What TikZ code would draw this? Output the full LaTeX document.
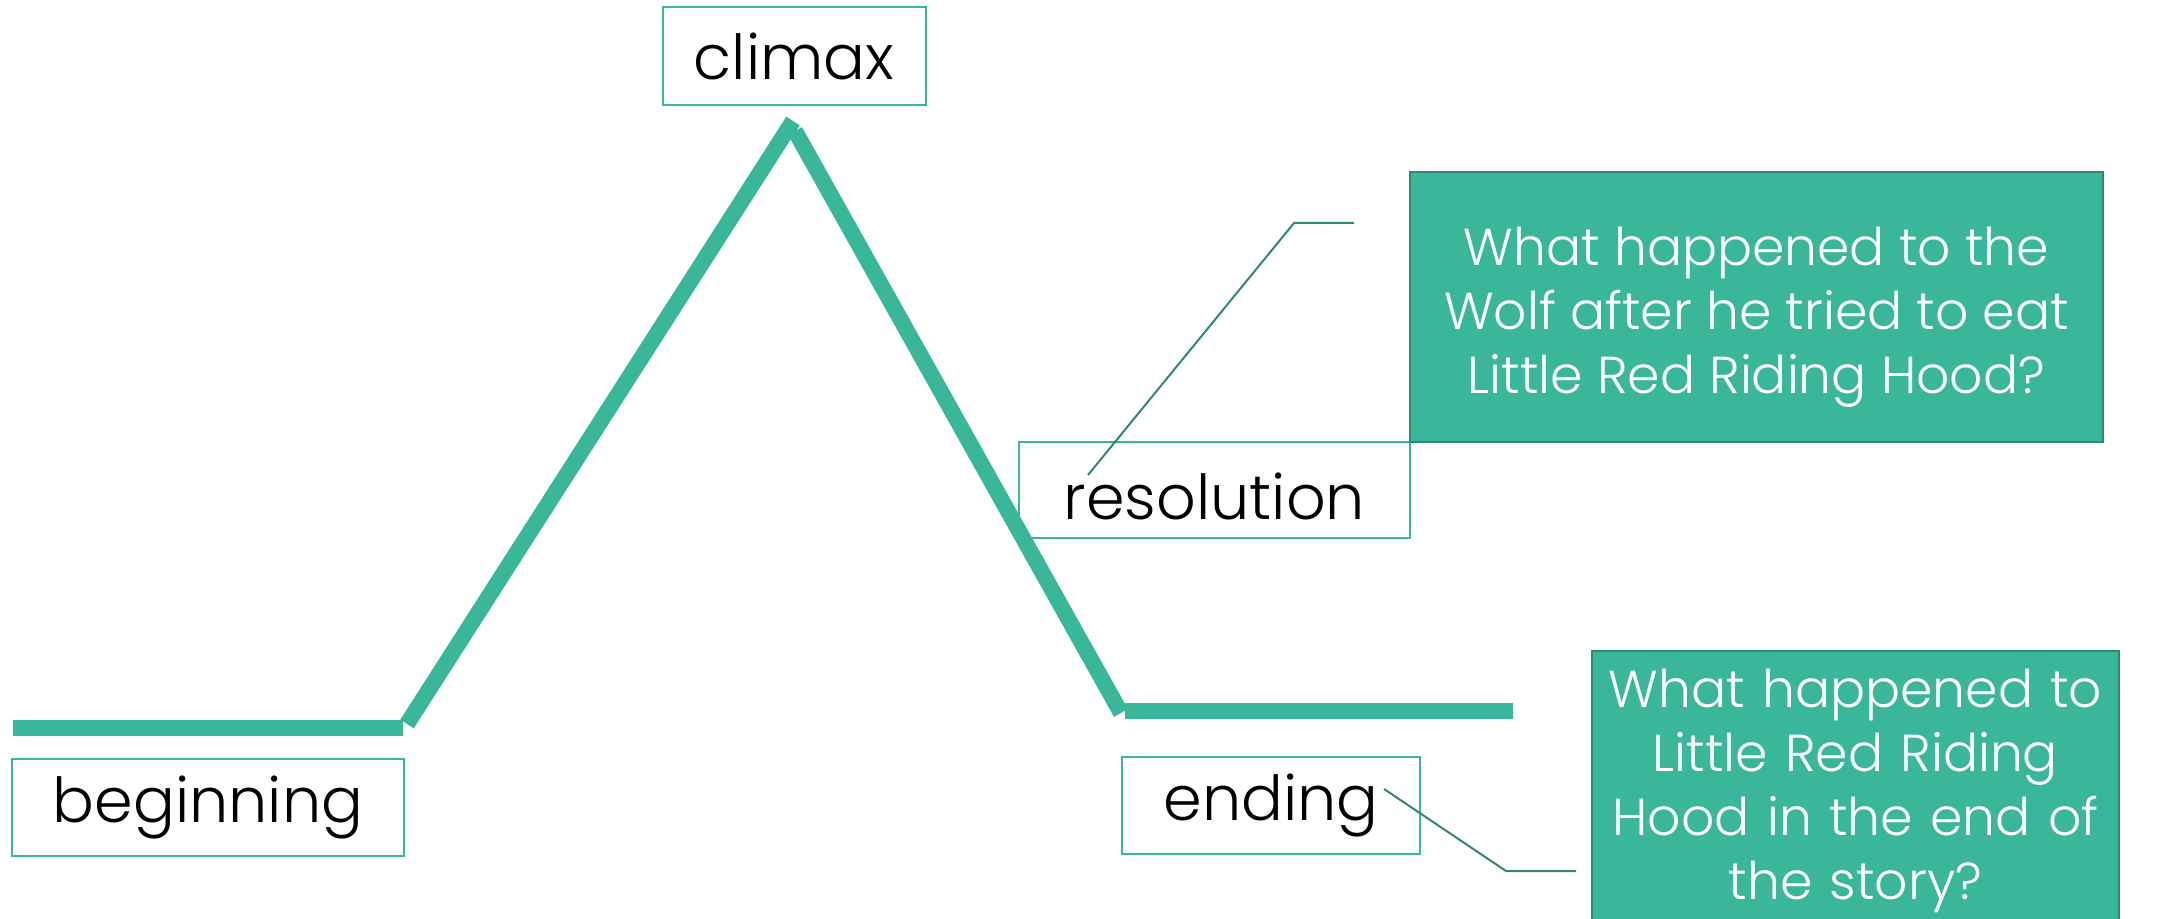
\documentclass[tikz,border=0pt]{standalone}
\usepackage{fontspec}
\setmainfont{Poppins Light}[BoldFont=Poppins]
\definecolor{plotgreen}{HTML}{3AB79A}
\definecolor{darkgreen}{HTML}{2E8872}
\begin{document}
\begin{tikzpicture}[x=0.5pt,y=-0.5pt,
  labelbox/.style={draw=plotgreen,line width=1pt,inner sep=0pt,font=\fontsize{31}{37}\selectfont,text=black},
  qbox/.style={draw=darkgreen,fill=plotgreen,line width=1pt,inner sep=0pt,text=white,align=center,font=\fontsize{26}{32}\selectfont},
  plotline/.style={draw=plotgreen,line width=8pt,line cap=butt},
  leader/.style={draw=darkgreen,line width=1pt}]
\useasboundingbox (0,0) rectangle (2159,919);
% plot line
\coordinate (b0) at (13,728);
\coordinate (b1) at (403,728);
\coordinate (r0) at (407,724);
\coordinate (r1) at (793,121);
\coordinate (f0) at (795,131);
\coordinate (f1) at (1121,713);
\coordinate (e0) at (1125,711);
\coordinate (e1) at (1513,711);
\draw[plotline] (b0) -- (b1);
\draw[plotline] (r0) -- (r1);
\draw[plotline] (f0) -- (f1);
\draw[plotline] (e0) -- (e1);
% labels
\node[labelbox,minimum width=196pt,minimum height=48.5pt] (beg) at (208,807.5) {\raisebox{-2pt}{beginning}};
\node[labelbox,minimum width=131.5pt,minimum height=49pt] (cli) at (794,56) {climax};
\node[labelbox,minimum width=195.5pt,minimum height=48pt,text depth=0pt] (res) at (1214.5,490) {\raisebox{-6pt}{resolution}};
\node[labelbox,minimum width=149pt,minimum height=48.5pt] (end) at (1271,805.5) {ending};
% question boxes
\node[qbox,minimum width=346.5pt,minimum height=135pt] (q1) at (1756.5,307) {\raisebox{-5pt}[\height][\depth]{\parbox{340pt}{\centering What happened to the\\Wolf after he tried to eat\\Little Red Riding Hood?}}};
\node[qbox,minimum width=263.5pt,minimum height=140pt,text width=258pt] (q2) at (1855.5,791) {What happened to\\Little Red Riding\\Hood in the end of\\the story?};
% leaders
\coordinate (l1a) at (1088,475);
\coordinate (l1b) at (1294,223);
\coordinate (l1c) at (1354,223);
\draw[leader] (l1a) -- (l1b) -- (l1c);
\coordinate (l2a) at (1384,789);
\coordinate (l2b) at (1506,871);
\coordinate (l2c) at (1576,871);
\draw[leader] (l2a) -- (l2b) -- (l2c);
\end{tikzpicture}
\end{document}
